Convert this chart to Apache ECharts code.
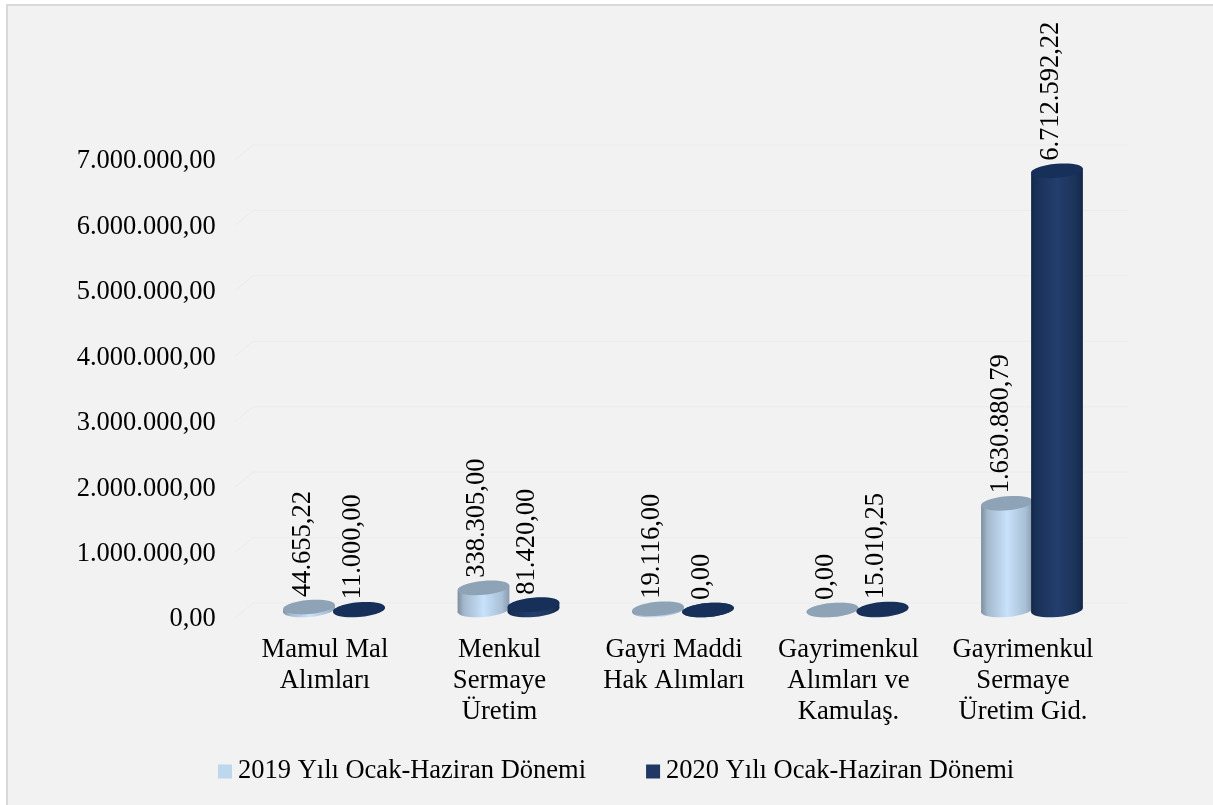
<!DOCTYPE html>
<html><head><meta charset="utf-8">
<style>html,body{margin:0;padding:0;background:#fff;overflow:hidden}#c{width:1213px;height:805px}</style>
<script src="https://cdn.jsdelivr.net/npm/echarts@6/dist/echarts.min.js"></script>
</head><body><div id="c"></div>
<script>
var categories = ["Mamul Mal\nAlımları","Menkul\nSermaye\nÜretim","Gayri Maddi\nHak Alımları","Gayrimenkul\nAlımları ve\nKamulaş.","Gayrimenkul\nSermaye\nÜretim Gid."];
var values2019 = [44655.22, 338305.00, 19116.00, 0.00, 1630880.79];
var values2020 = [11000.00, 81420.00, 0.00, 15010.25, 6712592.22];
var gridTicks = [0,1000000,2000000,3000000,4000000,5000000,6000000,7000000];
var seriesNames = ["2019 Yılı Ocak-Haziran Dönemi","2020 Yılı Ocak-Haziran Dönemi"];

function fmt(v){
  var p = v.toFixed(2).split('.');
  return p[0].replace(/\B(?=(\d{3})+(?!\d))/g,'.') + ',' + p[1];
}
var FONT = '"Liberation Serif","Times New Roman",serif';
function grad(stops){
  return {type:'linear',x:0,y:0,x2:1,y2:0,colorStops:stops};
}
var lightSide = grad([{offset:0,color:'#7d8d9e'},{offset:0.12,color:'#a3b8cc'},{offset:0.5,color:'#c8e2fb'},{offset:0.85,color:'#a9c0d6'},{offset:1,color:'#8a9cae'}]);
var darkSide = grad([{offset:0,color:'#14274a'},{offset:0.12,color:'#1a3259'},{offset:0.5,color:'#233e6e'},{offset:0.85,color:'#1b3459'},{offset:1,color:'#142848'}]);

function cylinder(dx, side, topColor){
  return function(params, api){
    var cat = api.value(0), val = api.value(1);
    var base = api.coord([cat, 0]), top = api.coord([cat, val]);
    var cx = base[0] + dx, by = base[1] - 9.5, ty = top[1] - 9.5;
    var rx = 26, ry = 7, rot = 5*Math.PI/180;
    var ex = rx*Math.cos(rot), ey = rx*Math.sin(rot);
    var children = [
      {type:'ellipse', x:cx, y:by, rotation:rot, shape:{cx:0,cy:0,rx:rx,ry:ry}, style:{fill:side}},
      {type:'polygon', shape:{points:[[cx-ex,ty+ey],[cx-ex,by+ey],[cx+ex,by-ey],[cx+ex,ty-ey]]}, style:{fill:side}},
      {type:'ellipse', x:cx, y:ty, rotation:rot, shape:{cx:0,cy:0,rx:rx,ry:ry}, style:{fill:topColor}},
      {type:'text', x:cx-6, y:ty-10, rotation:Math.PI/2,
        style:{text:fmt(val), font:'26.5px '+FONT, fill:'#000', align:'left', verticalAlign:'middle'}}
    ];
    return {type:'group', children:children};
  };
}
function gridRender(params, api){
  var p = api.coord([0, api.value(1)]);
  var y = p[1] - 16.5, x0 = 253, x1 = 1128;
  return {type:'group', children:[
    {type:'line', shape:{x1:x0,y1:y,x2:x1,y2:y}, style:{stroke:'#ececec',lineWidth:1}},
    {type:'line', shape:{x1:235,y1:y+15,x2:x0,y2:y}, style:{stroke:'#ececec',lineWidth:1}}
  ]};
}
var chart = echarts.init(document.getElementById('c'),null,{renderer:'canvas'});
chart.setOption({
  animation:false,
  backgroundColor:'#ffffff',
  graphic:[{type:'rect',z:-10,silent:true,shape:{x:7,y:5,width:1300,height:900},
    style:{fill:'#f2f2f2',stroke:'#d9d9d9',lineWidth:2}}],
  grid:{left:237.75,width:872.5,top:161.5,height:458,containLabel:false},
  legend:{
    data:seriesNames.map(function(n,i){return {name:n,icon:'rect',itemStyle:{color:i?'#1f3864':'#bdd7ee'}};}),
    left:213, top:753, itemWidth:14, itemHeight:14, itemGap:60,
    textStyle:{fontFamily:FONT,fontSize:26.5,color:'#000',padding:[0,0,0,1]}
  },
  xAxis:{type:'category',data:categories,
    axisLine:{show:false},axisTick:{show:false},
    axisLabel:{interval:0,fontFamily:FONT,fontSize:26.7,color:'#000',lineHeight:31,margin:15}},
  yAxis:{type:'value',min:0,max:7000000,interval:1000000,
    axisLine:{show:false},axisTick:{show:false},splitLine:{show:false},
    axisLabel:{formatter:function(v){return fmt(v);},fontFamily:FONT,fontSize:26.5,color:'#000',margin:22}},
  series:[
    {type:'custom',name:'grid',renderItem:gridRender,silent:true,z:1,data:gridTicks.map(function(t){return [0,t];}),encode:{x:0,y:1}},
    {type:'custom',name:seriesNames[0],renderItem:cylinder(-16,lightSide,'#8fa3b6'),z:2,itemStyle:{color:'#bdd7ee'},data:values2019.map(function(v,i){return [i,v];}),encode:{x:0,y:1}},
    {type:'custom',name:seriesNames[1],renderItem:cylinder(34,darkSide,'#17305a'),z:3,itemStyle:{color:'#1f3864'},data:values2020.map(function(v,i){return [i,v];}),encode:{x:0,y:1}}
  ]
});
</script></body></html>
